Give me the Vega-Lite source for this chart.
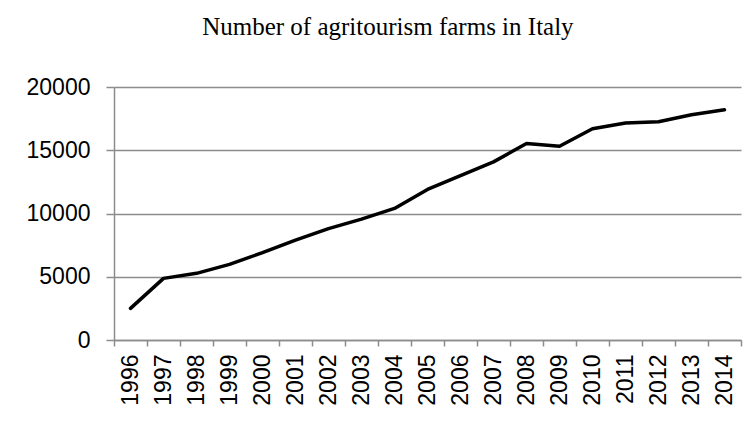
{
  "$schema": "https://vega.github.io/schema/vega-lite/v6.json",
  "width": 627,
  "height": 253,
  "autosize": "none",
  "padding": {"left": 114, "top": 87, "right": 14, "bottom": 82},
  "background": "white",
  "title": {
    "text": "Number of agritourism farms in Italy",
    "font": "Liberation Serif",
    "fontSize": 25,
    "fontWeight": "normal",
    "color": "#000000",
    "anchor": "middle",
    "frame": "bounds",
    "baseline": "alphabetic",
    "offset": 16,
    "dx": 4
  },
  "config": {
    "view": {"stroke": null},
    "axis": {
      "labelFont": "Liberation Sans",
      "labelFontSize": 23,
      "labelColor": "#000000",
      "domainColor": "#8c8c8c",
      "tickColor": "#8c8c8c",
      "gridColor": "#8c8c8c",
      "domainWidth": 1.5,
      "tickWidth": 1.5,
      "gridWidth": 1.5
    }
  },
  "data": {
    "values": [
      {"year": "1996", "farms": 2500},
      {"year": "1997", "farms": 4870},
      {"year": "1998", "farms": 5270},
      {"year": "1999", "farms": 5980},
      {"year": "2000", "farms": 6900},
      {"year": "2001", "farms": 7900},
      {"year": "2002", "farms": 8800},
      {"year": "2003", "farms": 9550},
      {"year": "2004", "farms": 10400},
      {"year": "2005", "farms": 11900},
      {"year": "2006", "farms": 13000},
      {"year": "2007", "farms": 14080},
      {"year": "2008", "farms": 15530},
      {"year": "2009", "farms": 15320},
      {"year": "2010", "farms": 16700},
      {"year": "2011", "farms": 17150},
      {"year": "2012", "farms": 17250},
      {"year": "2013", "farms": 17800},
      {"year": "2014", "farms": 18200}
    ]
  },
  "mark": {"type": "line", "color": "#000000", "strokeWidth": 3.5, "strokeCap": "round", "strokeJoin": "round"},
  "encoding": {
    "x": {
      "field": "year",
      "type": "ordinal",
      "scale": {"paddingInner": 0, "paddingOuter": 0},
      "axis": {
        "title": null,
        "labelAngle": -90,
        "labelAlign": "right",
        "labelBaseline": "middle",
        "tickBand": "extent",
        "tickSize": 6,
        "labelPadding": 8,
        "grid": false
      }
    },
    "y": {
      "field": "farms",
      "type": "quantitative",
      "scale": {"domain": [0, 20000]},
      "axis": {
        "title": null,
        "values": [0, 5000, 10000, 15000, 20000],
        "format": "d",
        "tickSize": 8,
        "labelPadding": 16,
        "grid": true
      }
    }
  }
}
